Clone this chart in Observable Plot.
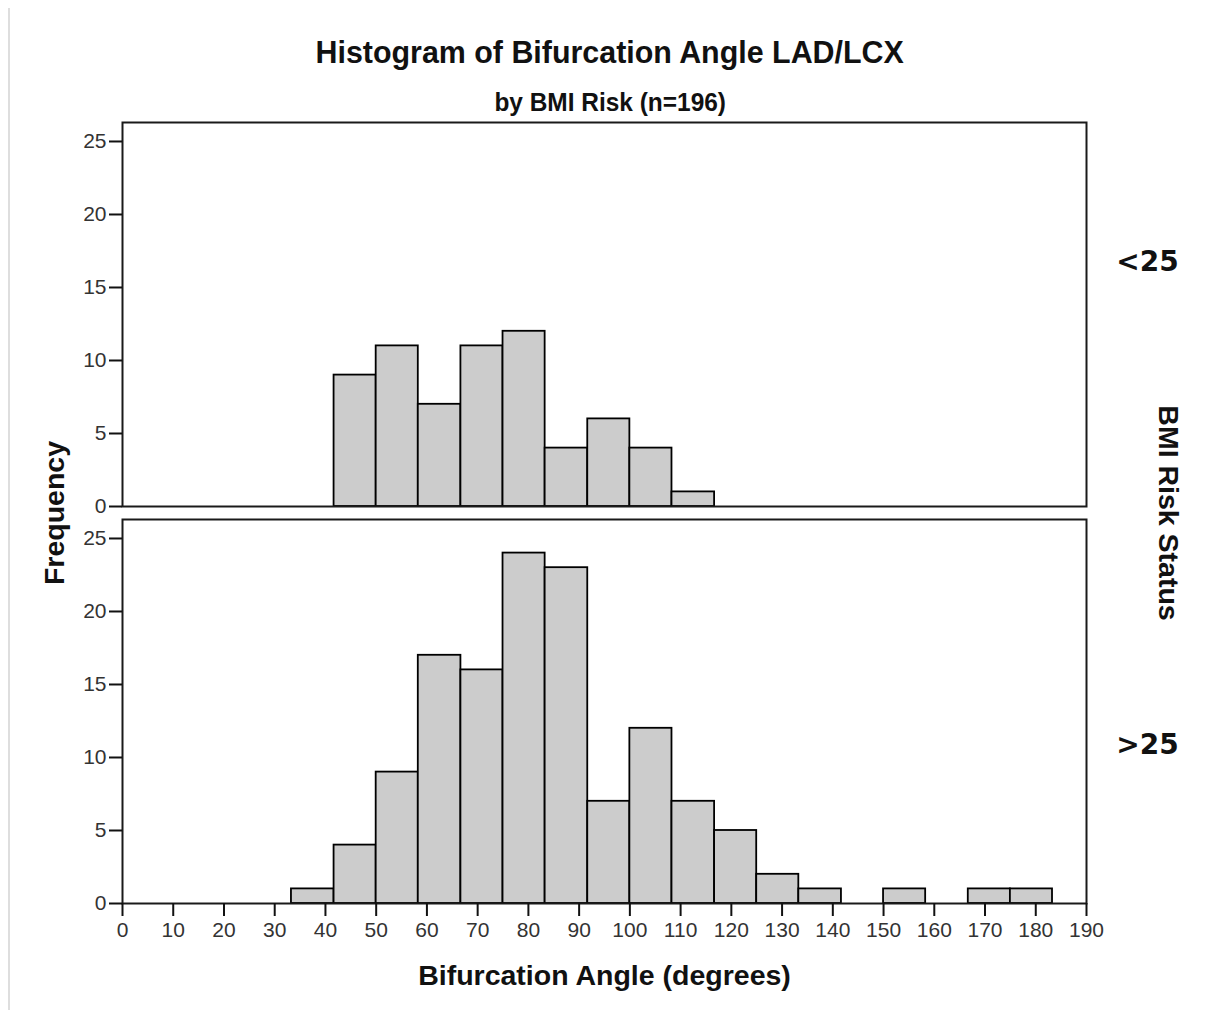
<!DOCTYPE html>
<html><head><meta charset="utf-8">
<script src="https://cdn.jsdelivr.net/npm/d3@7"></script>
<script src="https://cdn.jsdelivr.net/npm/@observablehq/plot@0.6"></script>
<style>
body{margin:0;background:#fff;}
#wrap{position:relative;width:1206px;height:1010px;overflow:hidden;background:#fff;}
.t{position:absolute;left:7px;width:1206px;text-align:center;font-family:"Liberation Sans",Arial,sans-serif;font-weight:bold;color:#111;white-space:nowrap;}
.t span{display:inline-block;transform-origin:50% 50%;}
#title{top:36px;font-size:32px;line-height:32px;}
#title span{transform:scaleX(0.95);}
#subtitle{top:89px;font-size:26px;line-height:26px;}
#subtitle span{transform:scaleX(0.94);}
#edge{position:absolute;left:8px;top:8px;width:2px;bottom:0;background:#dedede;}
#chart{position:absolute;left:0;top:115px;}
</style></head>
<body><div id="wrap">
<div id="edge"></div>
<div class="t" id="title"><span>Histogram of Bifurcation Angle LAD/LCX</span></div>
<div class="t" id="subtitle"><span>by BMI Risk (n=196)</span></div>
<div id="chart"></div>
</div>
<script>
// Groups (facets)
const groups = ["<25", ">25"];
// Histogram bin edges (degrees)
const binStarts = [33.3, 41.7, 50, 58.3, 66.7, 75, 83.3, 91.7, 100, 108.3, 116.7, 125, 133.3, 141.7, 150, 158.3, 166.7, 175];
const binEnds   = [41.7, 50, 58.3, 66.7, 75, 83.3, 91.7, 100, 108.3, 116.7, 125, 133.3, 141.7, 150, 158.3, 166.7, 175, 183.3];
// Frequencies per bin
const countsBelow25 = [0, 9, 11, 7, 11, 12, 4, 6, 4, 1, 0, 0, 0, 0, 0, 0, 0, 0];
const countsAbove25 = [1, 4, 9, 17, 16, 24, 23, 7, 12, 7, 5, 2, 1, 0, 1, 0, 1, 1];
// Ticks and labels
const xTicks = [0, 10, 20, 30, 40, 50, 60, 70, 80, 90, 100, 110, 120, 130, 140, 150, 160, 170, 180, 190];
const yTicks = [0, 5, 10, 15, 20, 25];
const xLabel = "Bifurcation Angle (degrees)";
const yLabel = "Frequency";
const facetLabel = "BMI Risk Status";

const rows = [];
binStarts.forEach((x1, i) => {
  rows.push({group: groups[0], x1, x2: binEnds[i], count: countsBelow25[i]});
  rows.push({group: groups[1], x1, x2: binEnds[i], count: countsAbove25[i]});
});
const bars = rows.filter(d => d.count > 0);

const boldLabel = {fontFamily: "Liberation Sans, Arial, sans-serif", fontWeight: "bold", fontSize: 28.5, fill: "#111"};

const chart = Plot.plot({
  width: 1206,
  height: 895,
  marginTop: 7,
  marginBottom: 106,
  marginLeft: 122,
  marginRight: 120,
  x: {domain: [0, 190]},
  y: {domain: [0, 26.3]},
  fy: {domain: groups, paddingInner: 0.0327, paddingOuter: 0, axis: null},
  style: {fontFamily: "Liberation Sans, Arial, sans-serif", fontSize: "21px", color: "#222", background: "transparent"},
  marks: [
    Plot.rect(bars, {x1: "x1", x2: "x2", y1: 0, y2: "count", fy: "group", fill: "#cccccc", stroke: "#000", strokeWidth: 1.8}),
    Plot.frame({stroke: "#1a1a1a", strokeWidth: 2}),
    Plot.axisY({ticks: yTicks, tickSize: 13, tickPadding: 3, label: null, strokeWidth: 2, stroke: "#111", fill: "#333", fontSize: 21}),
    Plot.axisX({ticks: xTicks, tickSize: 13, tickPadding: 6, label: null, strokeWidth: 2, stroke: "#111", fill: "#333", fontSize: 21}),
    Plot.text([groups[0]], {fy: d => d, text: d => d, frameAnchor: "top-right", dx: 61, dy: 140, textAnchor: "middle", lineAnchor: "middle", fontFamily: "DejaVu Sans, sans-serif", fontWeight: "bold", fontSize: 28, fill: "#111"}),
    Plot.text([groups[1]], {fy: d => d, text: d => d, frameAnchor: "top-right", dx: 61, dy: 226, textAnchor: "middle", lineAnchor: "middle", fontFamily: "DejaVu Sans, sans-serif", fontWeight: "bold", fontSize: 28, fill: "#111"}),
    Plot.text([groups[0]], {fy: d => d, text: () => yLabel, frameAnchor: "bottom-left", dx: -68, dy: 6.5, rotate: -90, textAnchor: "middle", lineAnchor: "middle", ...boldLabel}),
    Plot.text([groups[0]], {fy: d => d, text: () => facetLabel, frameAnchor: "bottom-right", dx: 82, dy: 6.5, rotate: 90, textAnchor: "middle", lineAnchor: "middle", ...boldLabel}),
    Plot.text([groups[1]], {fy: d => d, text: () => xLabel, frameAnchor: "bottom", dy: 72, textAnchor: "middle", lineAnchor: "middle", ...boldLabel})
  ]
});
document.getElementById("chart").appendChild(chart);
</script>
</body></html>
